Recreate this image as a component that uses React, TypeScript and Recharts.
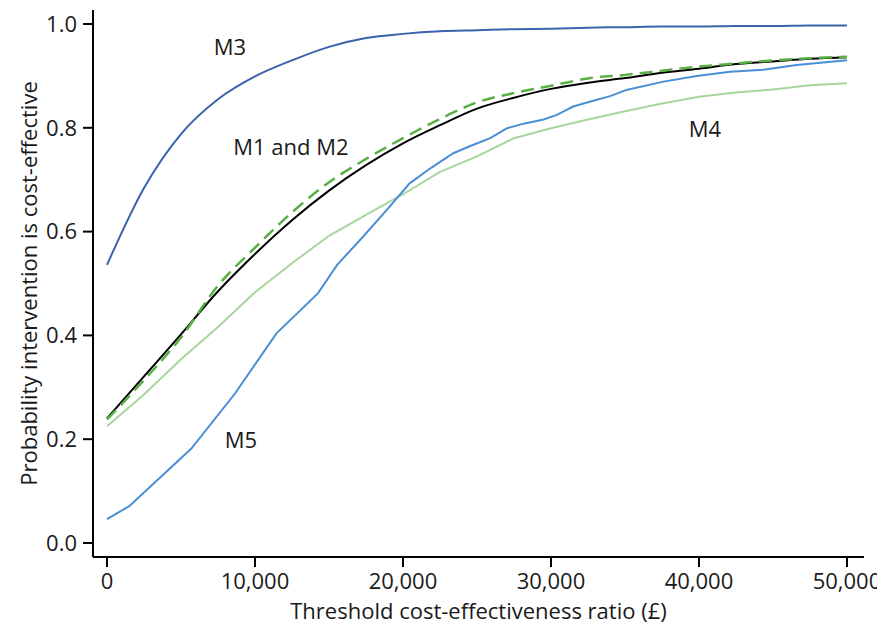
import { LineChart, Line, XAxis, YAxis, ReferenceDot, Label } from 'recharts'

// threshold grid (£) for the smooth curves
const thresholds = [
  0, 2500, 5000, 7500, 10000, 12500, 15000, 17500, 20000, 22500, 25000,
  27500, 30000, 32500, 35000, 37500, 40000, 42500, 45000, 47500, 50000,
]

const m1 = [
  0.24, 0.321, 0.402, 0.485, 0.557, 0.622, 0.679, 0.728, 0.77, 0.805, 0.837,
  0.858, 0.875, 0.887, 0.896, 0.906, 0.914, 0.923, 0.928, 0.933, 0.936,
]
const m2 = [
  0.238, 0.314, 0.396, 0.496, 0.569, 0.637, 0.695, 0.74, 0.78, 0.817, 0.849,
  0.867, 0.881, 0.895, 0.902, 0.91, 0.918, 0.924, 0.93, 0.934, 0.937,
]
const m3 = [
  0.536, 0.684, 0.788, 0.855, 0.899, 0.93, 0.956, 0.973, 0.981, 0.986, 0.988,
  0.99, 0.991, 0.993, 0.994, 0.995, 0.995, 0.996, 0.996, 0.997, 0.997,
]
const m4 = [
  0.225, 0.286, 0.354, 0.416, 0.483, 0.539, 0.592, 0.632, 0.672, 0.715, 0.745,
  0.78, 0.799, 0.816, 0.832, 0.847, 0.86, 0.868, 0.874, 0.882, 0.886,
]

// M5 is read at its kinks
const m5Thresholds = [
  0, 1500, 5700, 8650, 11450, 14250, 15550, 17300, 19100, 20450, 21800, 23400,
  24550, 25900, 27000, 28150, 29500, 30400, 31500, 32850, 34000, 35100, 37600,
  39850, 42100, 44350, 46600, 50000,
]
const m5 = [
  0.046, 0.071, 0.182, 0.288, 0.404, 0.481, 0.536, 0.59, 0.648, 0.693, 0.721, 0.751,
  0.765, 0.78, 0.799, 0.808, 0.816, 0.825, 0.841, 0.852, 0.861, 0.873, 0.889,
  0.9, 0.908, 0.912, 0.921, 0.93,
]

const xTicks = [0, 10000, 20000, 30000, 40000, 50000]
const yTicks = [0, 0.2, 0.4, 0.6, 0.8, 1.0]

const toPoints = (xs: number[], ys: number[]) => xs.map((x, i) => ({ x, y: ys[i] }))

const textColor = '#1a1a1a'
const fontSize = 22

export default function App() {
  return (
    <div style={{ fontFamily: '"Open Sans", sans-serif' }}>
      <LineChart width={877} height={622} margin={{ top: 2, right: 21, bottom: 0, left: 0 }}>
        <XAxis
          type="number"
          dataKey="x"
          domain={[-946, 51149]}
          ticks={xTicks}
          tickFormatter={(v: number) => v.toLocaleString('en-US')}
          axisLine={{ stroke: '#000', strokeWidth: 2 }}
          tickLine={{ stroke: '#000', strokeWidth: 2 }}
          tickSize={10}
          tickMargin={6}
          tick={{ fontSize, fill: textColor }}
          height={73}
          allowDataOverflow
        >
          <Label
            value="Threshold cost-effectiveness ratio (£)"
            position="insideBottom"
            offset={11}
            style={{ fontSize, fill: textColor }}
          />
        </XAxis>
        <YAxis
          type="number"
          domain={[-0.027, 1.027]}
          ticks={yTicks}
          tickFormatter={(v: number) => v.toFixed(1)}
          axisLine={{ stroke: '#000', strokeWidth: 2 }}
          tickLine={{ stroke: '#000', strokeWidth: 2 }}
          tickSize={10}
          tickMargin={6}
          tick={{ fontSize, fill: textColor }}
          width={85}
          allowDataOverflow
        >
          <Label
            value="Probability intervention is cost-effective"
            angle={-90}
            position="insideLeft"
            offset={21}
            style={{ fontSize, fill: textColor, textAnchor: 'middle' }}
          />
        </YAxis>

        <Line data={toPoints(thresholds, m4)} dataKey="y" type="linear" stroke="#a8d59d" strokeWidth={2} dot={false} isAnimationActive={false} />
        <Line data={toPoints(m5Thresholds, m5)} dataKey="y" type="linear" stroke="#4a8fd6" strokeWidth={2} dot={false} isAnimationActive={false} />
        <Line data={toPoints(thresholds, m3)} dataKey="y" type="monotone" stroke="#3a62ad" strokeWidth={2} dot={false} isAnimationActive={false} />
        <Line data={toPoints(thresholds, m1)} dataKey="y" type="monotone" stroke="#000" strokeWidth={2} dot={false} isAnimationActive={false} />
        <Line data={toPoints(thresholds, m2)} dataKey="y" type="monotone" stroke="#5aaf47" strokeWidth={2.5} strokeDasharray="13 7" dot={false} isAnimationActive={false} />

        <ReferenceDot x={8310} y={0.956} r={0} fill="none" stroke="none" label={{ value: 'M3', position: 'center', fontSize, fill: textColor }} />
        <ReferenceDot x={12430} y={0.763} r={0} fill="none" stroke="none" label={{ value: 'M1 and M2', position: 'center', fontSize, fill: textColor }} />
        <ReferenceDot x={40400} y={0.798} r={0} fill="none" stroke="none" label={{ value: 'M4', position: 'center', fontSize, fill: textColor }} />
        <ReferenceDot x={9050} y={0.198} r={0} fill="none" stroke="none" label={{ value: 'M5', position: 'center', fontSize, fill: textColor }} />
      </LineChart>
    </div>
  )
}
